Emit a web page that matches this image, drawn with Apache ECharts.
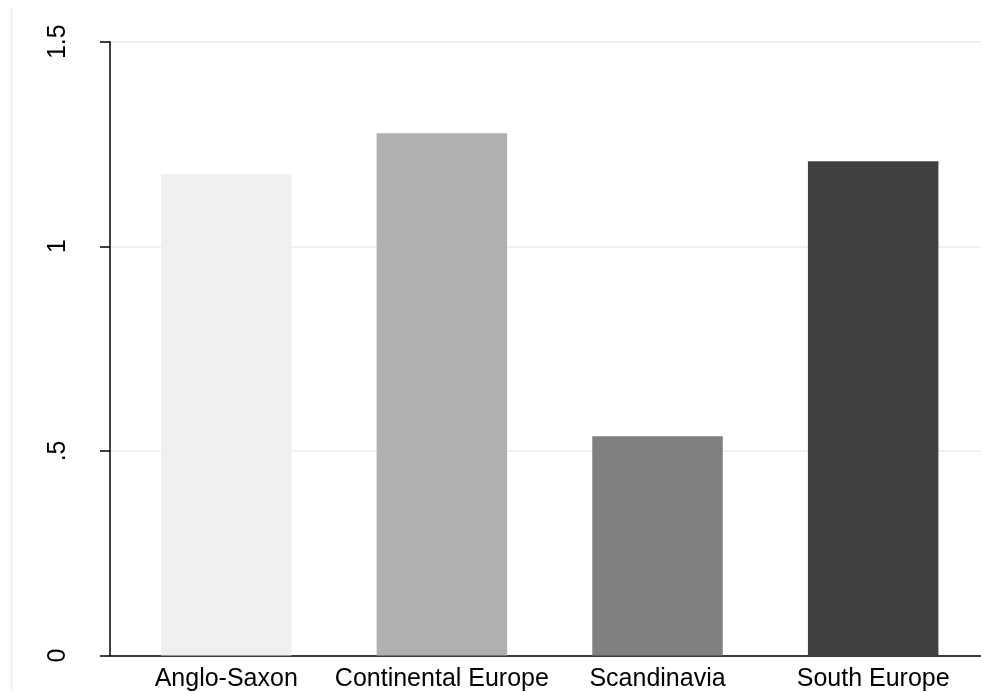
<!DOCTYPE html>
<html><head><meta charset="utf-8">
<script src="https://cdn.jsdelivr.net/npm/echarts@6/dist/echarts.min.js"></script>
<style>html,body{margin:0;padding:0;background:#fff}#c{width:981px;height:692px}</style>
</head><body><div id="c"></div>
<script>
const categories = ['Anglo-Saxon', 'Continental Europe', 'Scandinavia', 'South Europe'];
const values = [1.176, 1.276, 0.536, 1.208];
const barColors = ['#efefef', '#b0b0b0', '#808080', '#404040'];
const yTicks = [0, 0.5, 1, 1.5];

const chart = echarts.init(document.getElementById('c'), null, {renderer: 'canvas'});
const FONT = 'Liberation Sans, Arial, sans-serif';
const fmt = v => { const s = String(v); return s.startsWith('0.') ? s.slice(1) : s; };
chart.setOption({
  animation: false,
  backgroundColor: '#ffffff',
  graphic: [{type: 'line', shape: {x1: 11.5, y1: 9, x2: 11.5, y2: 692}, style: {stroke: '#e6eff0', lineWidth: 1.5}}],
  grid: [
    {left: 110, right: 0, top: 41.7, bottom: 36.5},
    {left: 118.4, width: 864.8, top: 41.7, bottom: 36.5}
  ],
  xAxis: [
    {gridIndex: 0, type: 'value', min: 0, max: 1, axisLine: {show: true, onZero: false, lineStyle: {color: '#000', width: 1.5}}, axisTick: {show: false}, axisLabel: {show: false}, splitLine: {show: false}},
    {gridIndex: 1, type: 'category', data: categories, axisLine: {show: false}, axisTick: {show: false},
     axisLabel: {interval: 0, color: '#000', fontFamily: FONT, fontSize: 25, margin: 11}}
  ],
  yAxis: [
    {gridIndex: 0, type: 'value', min: yTicks[0], max: yTicks[yTicks.length - 1], interval: 0.5,
     axisLine: {show: true, lineStyle: {color: '#000', width: 1.5}},
     axisTick: {show: true, length: 10, lineStyle: {color: '#000', width: 1.5}},
     axisLabel: {rotate: 90, color: '#000', fontFamily: FONT, fontSize: 25, margin: 39, formatter: fmt},
     splitLine: {show: true, lineStyle: {color: '#e6eff0', width: 1.5}}},
    {gridIndex: 1, type: 'value', min: yTicks[0], max: yTicks[yTicks.length - 1], interval: 0.5, show: false}
  ],
  series: [{
    type: 'bar', xAxisIndex: 1, yAxisIndex: 1, barWidth: 130.5,
    data: values.map((v, i) => ({value: v, itemStyle: {color: barColors[i]}}))
  }]
});
</script></body></html>
